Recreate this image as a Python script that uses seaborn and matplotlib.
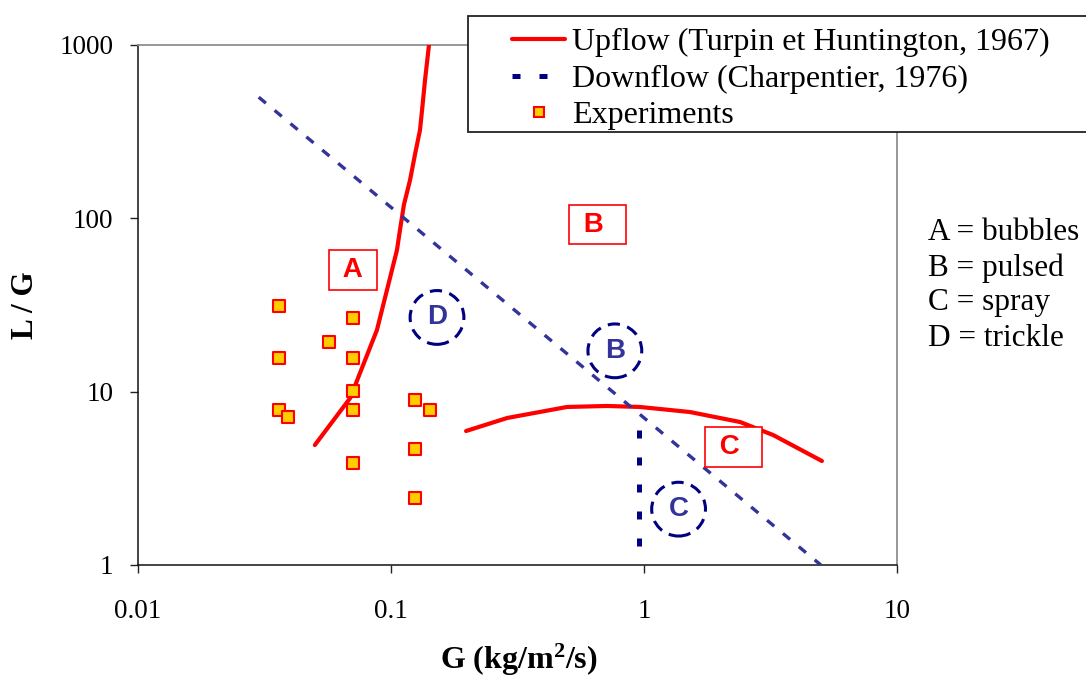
import matplotlib
matplotlib.use("Agg")
import numpy as np
import pandas as pd
import matplotlib.pyplot as plt
import seaborn as sns
from matplotlib.patches import Rectangle
from matplotlib.lines import Line2D
from matplotlib.ticker import NullLocator

# ---------------- data ----------------
# Upflow transition (Turpin et Huntington, 1967): two branches
up1_g = [0.050, 0.069, 0.0754, 0.088, 0.0964, 0.1056, 0.1085, 0.1125, 0.1189,
         0.1245, 0.1302, 0.1333, 0.1363, 0.1413]
up1_lg = [4.92, 9.2, 12.8, 22.7, 38.6, 65.7, 85.6, 120, 166, 235, 323, 451, 628, 1000]
up2_g = [0.198, 0.288, 0.496, 0.714, 0.964, 1.52, 2.40, 3.24, 5.05]
up2_lg = [5.93, 7.05, 8.16, 8.27, 8.16, 7.63, 6.68, 5.62, 3.98]

# Downflow transition (Charpentier, 1976)
down_diag_g = [0.03, 5.0]
down_diag_lg = [500, 1.0]
down_vert_g = [0.953, 0.953]
down_vert_lg = [6.0, 1.0]

# Experiments
exp_g = [0.036, 0.036, 0.036, 0.039, 0.057, 0.071, 0.071, 0.071, 0.071, 0.071,
         0.124, 0.142, 0.124, 0.124]
exp_lg = [31.0, 15.6, 7.8, 7.1, 19.4, 26.5, 15.6, 10.1, 7.8, 3.9,
          8.9, 7.8, 4.7, 2.45]

# Regime labels (upflow: boxed red, downflow: dashed circles)
up_reg_labels = [" A ", " B  ", " C  "]
up_reg_g = [0.0708, 0.655, 2.26]
up_reg_lg = [50.3, 92.1, 4.79]
down_reg_labels = ["D", "B", "C"]
down_reg_g = [0.152, 0.767, 1.37]
down_reg_lg = [26.8, 17.2, 2.10]

key_lines = ["A = bubbles", "B = pulsed", "C = spray", "D = trickle"]

x_ticks = [0.01, 0.1, 1, 10]
x_tick_labels = ["0.01", "0.1", "1", "10"]
y_ticks = [1, 10, 100, 1000]
y_tick_labels = ["1", "10", "100", "1000"]

legend_labels = ["Upflow (Turpin et Huntington, 1967)",
                 "Downflow (Charpentier, 1976)",
                 "Experiments"]

# ---------------- style ----------------
sns.set_theme(style="ticks")
plt.rcParams["font.family"] = ["Liberation Serif", "DejaVu Serif"]
plt.rcParams["text.color"] = "black"
plt.rcParams["axes.labelcolor"] = "black"
plt.rcParams["xtick.color"] = "black"
plt.rcParams["ytick.color"] = "black"
plt.rcParams["mathtext.fontset"] = "custom"
plt.rcParams["mathtext.rm"] = "Liberation Serif"
plt.rcParams["mathtext.bf"] = "Liberation Serif:bold"
plt.rcParams["mathtext.default"] = "bf"

W, H = 1086, 678
fig = plt.figure(figsize=(W / 100, H / 100), dpi=100)
fig.patch.set_facecolor("white")
ax = fig.add_axes([138 / W, 1 - 565 / H, 759 / W, 520 / H])
ax.set_xscale("log")
ax.set_yscale("log")

RED = "#ff0000"
NAVY = "#000080"
BLUE = "#333399"

up_df = pd.DataFrame({
    "G": up1_g + up2_g,
    "LG": up1_lg + up2_lg,
    "seg": [1] * len(up1_g) + [2] * len(up2_g),
})
sns.lineplot(data=up_df, x="G", y="LG", units="seg", estimator=None, sort=False,
             color=RED, lw=3, ax=ax, legend=False, zorder=3)

sns.lineplot(x=down_diag_g, y=down_diag_lg, estimator=None, sort=False,
             color=BLUE, lw=2.4, ax=ax, legend=False, zorder=3)
ax.lines[-1].set_linestyle((0, (2.8, 3.4)))
sns.lineplot(x=down_vert_g, y=down_vert_lg, estimator=None, sort=False,
             color=NAVY, lw=3.6, ax=ax, legend=False, zorder=3)
ax.lines[-1].set_linestyle((0, (1.6, 3.8)))

sns.scatterplot(x=exp_g, y=exp_lg, marker="s", s=72, color="#ffcc00",
                edgecolor=RED, linewidth=1.5, ax=ax, legend=False, zorder=5)

# dashed circles for downflow regimes
ax.scatter(down_reg_g, down_reg_lg, s=1500, marker="o", facecolors="white",
           edgecolors=NAVY, linewidths=2.2, linestyles=[(0, (4, 2.5))], zorder=4)
for lab, g, lg in zip(down_reg_labels, down_reg_g, down_reg_lg):
    ax.text(g, lg, lab, ha="center", va="center", color=BLUE, fontsize=20,
            fontweight="bold", family=["Liberation Sans", "DejaVu Sans"], zorder=6)

for lab, g, lg in zip(up_reg_labels, up_reg_g, up_reg_lg):
    ax.text(g, lg, lab, ha="center", va="center", color=RED, fontsize=20,
            fontweight="bold", family=["Liberation Sans", "DejaVu Sans"], zorder=6,
            bbox=dict(boxstyle="square,pad=0.25", facecolor="white",
                      edgecolor=RED, linewidth=1.2))

# axes & ticks
ax.set_xlim(0.01, 10)
ax.set_ylim(1, 1000)
ax.set_xticks(x_ticks)
ax.set_xticklabels(x_tick_labels)
ax.set_yticks(y_ticks)
ax.set_yticklabels(y_tick_labels)
ax.xaxis.set_minor_locator(NullLocator())
ax.yaxis.set_minor_locator(NullLocator())
ax.tick_params(axis="both", direction="out", length=5.8, width=1.0,
               labelsize=19.5, color="#222222", labelcolor="black")
ax.tick_params(axis="x", pad=19)
ax.tick_params(axis="y", pad=12)

for side in ["left", "bottom"]:
    ax.spines[side].set_color("#111111")
    ax.spines[side].set_linewidth(1.1)
for side in ["top", "right"]:
    ax.spines[side].set_color("#909090")
    ax.spines[side].set_linewidth(1.3)
    ax.spines[side].set_visible(True)

ax.set_ylabel("L / G", fontsize=22.5, fontweight="bold", va="center")
ax.yaxis.set_label_coords((26 - 138) / 759, 0.5)
ax.set_xlabel("G (kg/m$^{2}$/s)", fontsize=23, fontweight="bold", va="center")
ax.xaxis.set_label_coords((519 - 138) / 759, -(660 - 565) / 520)

# legend box (extends past the right edge, as in the original)
fig.add_artist(Rectangle((468 / W, 1 - 132 / H), (1300 - 468) / W, 116 / H,
                         transform=fig.transFigure, facecolor="white",
                         edgecolor="#222222", linewidth=1.3, zorder=4, clip_on=False))
handles = [
    Line2D([], [], color=RED, lw=3),
    Line2D([], [], color=NAVY, lw=3.6, linestyle=(0, (1.6, 3.8))),
    Line2D([], [], marker="s", ls="none", mfc="#ffcc00", mec=RED, mew=1.5, ms=7.5),
]
leg = fig.legend(handles, legend_labels, loc="upper left",
                 bbox_to_anchor=(512 / W, 1 - 28 / H), frameon=False, fontsize=23,
                 handlelength=1.66, handletextpad=0.22, labelspacing=0.22,
                 borderpad=0, borderaxespad=0)
leg.set_zorder(6)

# regime key on the right
for i, txt in enumerate(key_lines):
    ypx = [233, 268, 303, 339][i]
    fig.text(928 / W, 1 - ypx / H, txt, fontsize=22.5, ha="left", va="center")

fig.savefig("out.png", dpi=100)
